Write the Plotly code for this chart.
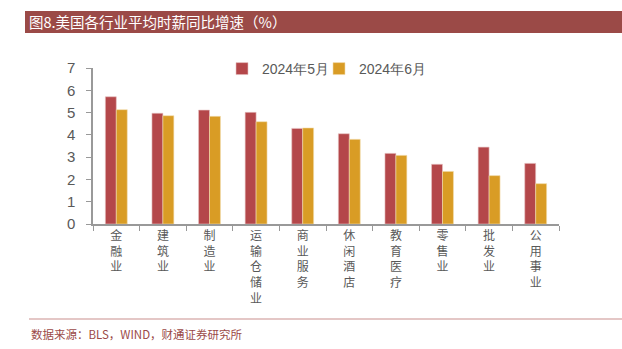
import plotly.graph_objects as go

categories = ["金融业", "建筑业", "制造业", "运输仓储业", "商业服务", "休闲酒店", "教育医疗", "零售业", "批发业", "公用事业"]
may_2024 = [5.71, 4.97, 5.11, 5.01, 4.29, 4.05, 3.17, 2.68, 3.45, 2.72]
jun_2024 = [5.13, 4.86, 4.83, 4.59, 4.31, 3.80, 3.08, 2.36, 2.17, 1.81]
series_names = ["2024年5月", "2024年6月"]
tick_text = ["<br>".join(list(c)) for c in categories]

W, H = 622, 349
L, R, T, B = 93, 63, 68, 125
PW, PH = W - L - R, H - T - B

def px(x):
    return (x - L) / PW

def py(y):
    return (H - B - y) / PH

RED = "#B4474A"
YEL = "#D99C25"
BRICK = "#9B4A47"

fig = go.Figure()
fig.add_bar(x=categories, y=may_2024, name=series_names[0], legend="legend",
            marker=dict(color=RED, line=dict(color="#E8C4C4", width=0.6)))
fig.add_bar(x=categories, y=jun_2024, name=series_names[1], legend="legend2",
            marker=dict(color=YEL, line=dict(color="#F2DDB0", width=0.6)))

leg_common = dict(orientation="h", xref="paper", yref="paper", xanchor="left", yanchor="top",
                  font=dict(family="Liberation Sans", size=14, color="#595959"),
                  bgcolor="rgba(0,0,0,0)")

fig.update_layout(
    width=W, height=H,
    margin=dict(l=L, r=R, t=T, b=B, autoexpand=False),
    paper_bgcolor="white", plot_bgcolor="white",
    barmode="group", bargap=0.53, bargroupgap=0,
    showlegend=True,
    legend=dict(x=px(222), y=py(53), **leg_common),
    legend2=dict(x=px(319), y=py(53), **leg_common),
    font=dict(family="Liberation Sans", color="#595959"),
)
fig.update_xaxes(
    tickvals=categories, ticktext=tick_text, tickson="boundaries", ticks="outside", ticklen=5,
    tickcolor="#999999", showline=True, linecolor="#999999", linewidth=1.5,
    tickfont=dict(family="Noto Sans CJK SC", size=12, color="#595959"), showgrid=False,
)
fig.update_yaxes(
    range=[0, 7], dtick=1, ticks="outside", ticklen=5, tickcolor="#999999",
    showline=True, linecolor="#999999", linewidth=1.5, showgrid=False, zeroline=False,
    tickfont=dict(family="Liberation Sans", size=15, color="#595959"), ticklabelstandoff=8,
)

# title bar
fig.add_shape(type="rect", xref="paper", yref="paper", x0=px(25), x1=px(622), y0=py(33), y1=py(11),
              fillcolor=BRICK, line=dict(width=0), layer="below")
fig.add_annotation(xref="paper", yref="paper", x=px(27), y=py(22), xanchor="left", yanchor="middle",
                   text="图8.美国各行业平均时薪同比增速（%）", showarrow=False,
                   font=dict(family="Noto Sans CJK SC", size=14.5, color="white"))
# bottom rule and source
fig.add_shape(type="line", xref="paper", yref="paper", x0=px(29), x1=px(622), y0=py(319), y1=py(319),
              line=dict(color="#C9908D", width=1.2))
fig.add_annotation(xref="paper", yref="paper", x=px(29), y=py(334), xanchor="left", yanchor="middle",
                   text="数据来源：BLS，WIND，财通证券研究所", showarrow=False,
                   font=dict(family="Noto Sans CJK SC", size=11.5, color=BRICK))

fig.write_html("out.html")
